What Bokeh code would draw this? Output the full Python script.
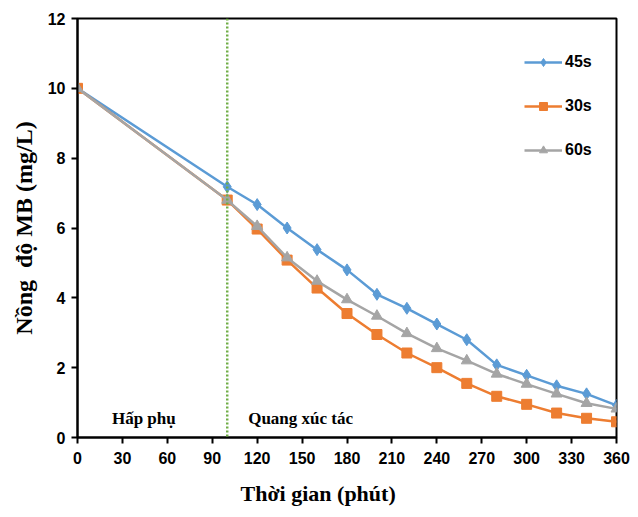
from bokeh.plotting import figure
from bokeh.models import Legend, Span, FixedTicker, Range1d, Title
from bokeh.core.properties import value
from bokeh.embed import file_html
from bokeh.resources import INLINE

time_min = [0, 100, 120, 140, 160, 180, 200, 220, 240, 260, 280, 300, 320, 340, 360]
s45 = [10, 7.18, 6.67, 6.0, 5.38, 4.8, 4.1, 3.7, 3.25, 2.8, 2.08, 1.78, 1.48, 1.25, 0.92]
s30 = [10, 6.8, 5.97, 5.08, 4.28, 3.55, 2.95, 2.42, 2.0, 1.55, 1.18, 0.95, 0.7, 0.55, 0.45]
s60 = [10, 6.8, 6.05, 5.15, 4.48, 3.95, 3.48, 2.98, 2.55, 2.2, 1.82, 1.53, 1.25, 0.98, 0.82]
x_ticks = [0, 30, 60, 90, 120, 150, 180, 210, 240, 270, 300, 330, 360]
y_ticks = [0, 2, 4, 6, 8, 10, 12]
stage_labels = ["Hấp phụ", "Quang xúc tác"]
stage_x = [23, 114]
stage_y = [0.55, 0.55]
switch_time = 100
x_title = "Thời gian (phút)"
y_title = "Nồng\u00a0 độ MB (mg/L)"

NARROW = "'Liberation Sans Narrow', 'Arial Narrow', 'Liberation Sans', sans-serif"
SERIF = "'Liberation Serif', 'Times New Roman', serif"

p = figure(width=638, height=517, output_backend="svg", toolbar_location=None,
           x_range=Range1d(0, 360), y_range=Range1d(0, 12))
p.min_border_left = 77
p.min_border_right = 22
p.min_border_top = 18
p.min_border_bottom = 80
p.background_fill_color = "white"
p.border_fill_color = "white"
p.outline_line_color = "black"
p.outline_line_width = 2
p.xgrid.visible = False
p.ygrid.visible = False

for ax in (p.xaxis[0], p.yaxis[0]):
    ax.axis_line_color = "black"
    ax.axis_line_width = 2
    ax.major_tick_line_color = "black"
    ax.major_tick_line_width = 2
    ax.major_tick_in = 0
    ax.major_tick_out = 6
    ax.minor_tick_line_color = None
    ax.major_label_text_font = NARROW
    ax.major_label_text_font_style = "bold"
    ax.major_label_text_font_size = "16px"
    ax.major_label_text_color = "black"
    ax.axis_label_text_font = SERIF
    ax.axis_label_text_font_style = "bold"
    ax.axis_label_text_color = "black"

p.xaxis.ticker = FixedTicker(ticks=x_ticks)
p.yaxis.ticker = FixedTicker(ticks=y_ticks)
p.xaxis.major_label_standoff = 8
p.yaxis.axis_label = y_title
p.yaxis.axis_label_text_font_size = "24px"
p.yaxis.axis_label_standoff = 8
p.yaxis.major_label_standoff = 6

xtitle = Title(text=x_title, align="left", offset=163, standoff=24,
               text_font=SERIF, text_font_style="bold", text_font_size="22px",
               text_color="black")
p.add_layout(xtitle, "below")

p.add_layout(Span(location=switch_time, dimension="height", line_color="#70ad47",
                  line_width=2.5, line_dash="2 2"))

series = [
    ("45s", s45, "#5b9bd5", "diamond", 12),
    ("30s", s30, "#ed7d31", "square", 10),
    ("60s", s60, "#a5a5a5", "triangle", 11),
]
items = []
for name, ys, col, mk, sz in series:
    r1 = p.line(time_min, ys, line_color=col, line_width=2.5)
    r2 = p.scatter(time_min, ys, marker=mk, size=sz, fill_color=col, line_color=col)
    items.append((name, [r1, r2]))

legend = Legend(items=items, location=(447, 277))
legend.border_line_color = None
legend.background_fill_alpha = 0
legend.padding = 10
legend.margin = 0
legend.spacing = 24
legend.label_height = 20
legend.glyph_height = 20
legend.glyph_width = 38
legend.label_standoff = 3
legend.label_text_font = NARROW
legend.label_text_font_size = "16px"
legend.label_text_font_style = "bold"
legend.label_text_color = "black"
p.add_layout(legend)

p.text(x=stage_x, y=stage_y, text=stage_labels, text_font=value(SERIF),
       text_font_style="bold", text_font_size="17px", text_baseline="middle",
       text_align="left", text_color="black")

open("out.html", "w").write(file_html(p, INLINE))
